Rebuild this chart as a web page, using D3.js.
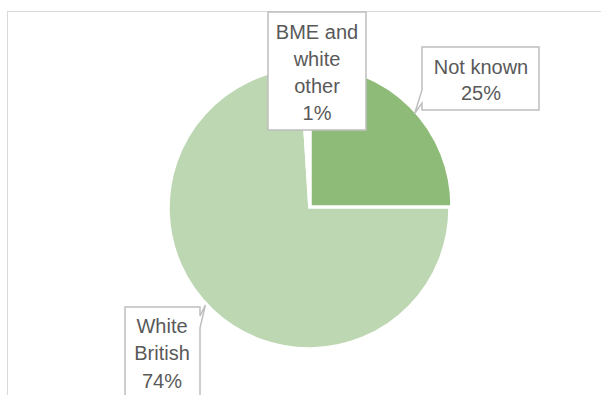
<!DOCTYPE html>
<html><head><meta charset="utf-8">
<script src="https://cdn.jsdelivr.net/npm/d3@7"></script>
<style>html,body{margin:0;padding:0;background:#fff;overflow:hidden}</style>
</head><body>
<svg id="chart" width="601" height="395"></svg>
<script>
const categories = ["Not known", "White British", "BME and white other"];
const values = [25, 74, 1];
const labelLines = [["Not known", "25%"], ["White", "British", "74%"], ["BME and", "white", "other", "1%"]];
const colors = ["#8fbb79", "#bdd7b3", "#ffffff"];

const svg = d3.select("#chart");
// chart border
svg.append("rect").attr("x", 7.5).attr("y", 11.5).attr("width", 700).attr("height", 500)
  .attr("fill", "#fff").attr("stroke", "#d9d9d9").attr("stroke-width", 1);

const cx = 309, cy = 208, R = 140;
const pie = d3.pie().sort(null).value(d => d)(values);
const arc = d3.arc().innerRadius(0).outerRadius(R);
const g = svg.append("g").attr("transform", `translate(${cx},${cy})`);
g.selectAll("path").data(pie).join("path")
  .attr("d", arc)
  .attr("transform", (d, i) => i === 0 ? "translate(2,-2)" : null)
  .attr("fill", (d, i) => colors[i])
  .attr("stroke", "#fff").attr("stroke-width", 1.5);

const boxes = [
  {b: [422, 47, 539, 110], tipAngle: 0.84, wedge: "left", w0: 90, w1: 103, cx: 481, ly: [67, 93]},
  {b: [125, 307, 200, 420], tipAngle: 3.96, wedge: "right", w0: 316, w1: 328, cx: 162, ly: [326, 353, 381]},
  {b: [268, 12, 366, 130], tipAngle: null, cx: 317, ly: [32, 59, 86, 113]}
];
boxes.forEach((bx, i) => {
  const [x0, y0, x1, y1] = bx.b;
  let p;
  if (bx.tipAngle !== null) {
    const tx = cx + (R + 2) * Math.sin(bx.tipAngle), ty = cy - (R + 2) * Math.cos(bx.tipAngle);
    if (bx.wedge === "left") {
      p = `M${x0},${y0}H${x1}V${y1}H${x0}V${bx.w1}L${tx},${ty}L${x0},${bx.w0}Z`;
    } else {
      p = `M${x0},${y0}H${x1}V${bx.w0}L${tx},${ty}L${x1},${bx.w1}V${y1}H${x0}Z`;
    }
  } else {
    p = `M${x0},${y0}H${x1}V${y1}H${x0}Z`;
  }
  svg.append("path").attr("d", p).attr("fill", "#fff").attr("stroke", "#bfbfbf").attr("stroke-width", 1.5);
  labelLines[i].forEach((t, j) => {
    svg.append("text").attr("x", bx.cx).attr("y", bx.ly[j]).attr("dy", "0.35em")
      .attr("text-anchor", "middle").attr("fill", "#595959")
      .attr("font-family", "Liberation Sans, Arial, sans-serif").attr("font-size", 20)
      .text(t);
  });
});
</script>
</body></html>
